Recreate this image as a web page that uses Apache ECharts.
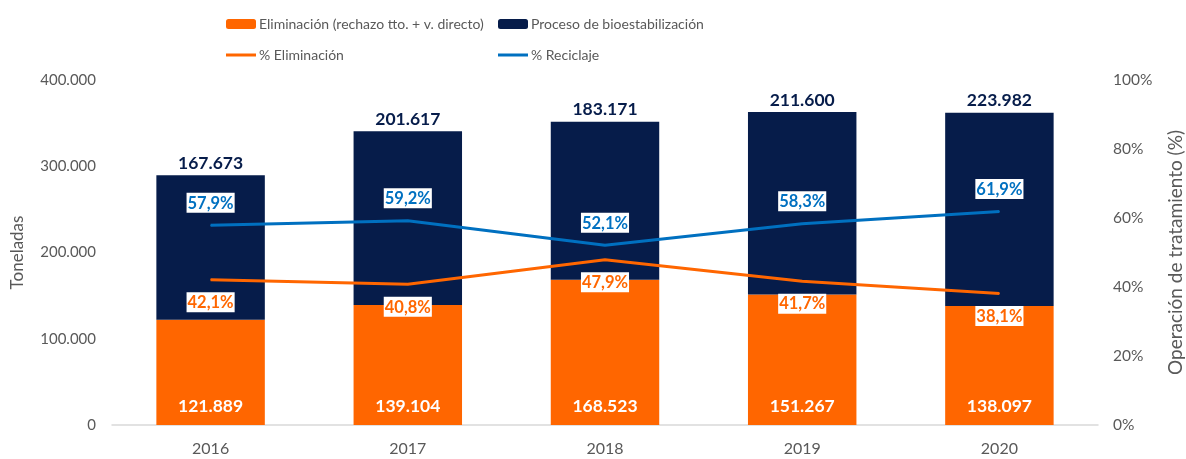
<!DOCTYPE html>
<html>
<head>
<meta charset="utf-8">
<script src="https://cdn.jsdelivr.net/npm/echarts@6/dist/echarts.min.js"></script>
<style>
  html, body { margin: 0; padding: 0; background: #fff; }
  #root { width: 1186px; height: 459px; }
</style>
</head>
<body>
<div id="root"></div>
<script>
var years = ['2016', '2017', '2018', '2019', '2020'];
var eliminacion = [121889, 139104, 168523, 151267, 138097];
var bioestab = [167673, 201617, 183171, 211600, 223982];
var pctEliminacion = [42.1, 40.8, 47.9, 41.7, 38.1];
var pctReciclaje = [57.9, 59.2, 52.1, 58.3, 61.9];
var leftTicks = { min: 0, max: 400000, interval: 100000 };
var rightTicks = { min: 0, max: 100, interval: 20 };

var ORANGE = '#ff6600';
var NAVY = '#061c4a';
var BLUE = '#0070c0';
var GREY = '#595959';
var FONT = 'Lato';

// miles con punto
var fmtMiles = v => String(v).replace(/\B(?=(\d{3})+(?!\d))/g, '.');
var fmtPct = v => v.toFixed(1).replace('.', ',') + '%';

var chart = echarts.init(document.getElementById('root'));

var legendBase = {
  itemWidth: 30,
  itemHeight: 10,
  itemGap: 4,
  textStyle: { color: GREY, fontFamily: FONT, fontSize: 14, padding: [0, 0, 0, -2] },
  selectedMode: false
};

var pctLabel = (color, pos) => ({
  show: true,
  position: pos,
  distance: 12,
  color: color,
  backgroundColor: '#fff',
  padding: [2, 1, 1, 1],
  fontWeight: 'bold',
  fontSize: 16.5,
  fontFamily: FONT,
  formatter: p => fmtPct(p.value)
});

var option = {
  animation: false,
  textStyle: { fontFamily: FONT },
  legend: [
    Object.assign({}, legendBase, { data: ['Eliminación (rechazo tto. + v. directo)'], left: 221, top: 12 }),
    Object.assign({}, legendBase, { data: ['Proceso de bioestabilización'], left: 493, top: 12 }),
    Object.assign({}, legendBase, { data: [{ name: '% Eliminación', icon: 'rect', itemStyle: { color: ORANGE } }], itemHeight: 3, left: 221, top: 43 }),
    Object.assign({}, legendBase, { data: [{ name: '% Reciclaje', icon: 'rect', itemStyle: { color: BLUE } }], itemHeight: 3, left: 493, top: 43 })
  ],
  grid: { left: 112, right: 88, top: 80, bottom: 34, containLabel: false, outerBoundsMode: 'none' },
  xAxis: {
    type: 'category',
    data: years,
    axisTick: { show: false },
    axisLine: { lineStyle: { color: '#d9d9d9', width: 1.5 } },
    axisLabel: { color: GREY, fontSize: 16, fontFamily: FONT, margin: 16 }
  },
  yAxis: [
    {
      type: 'value',
      min: leftTicks.min, max: leftTicks.max, interval: leftTicks.interval,
      name: 'Toneladas',
      nameLocation: 'middle',
      nameRotate: 90,
      nameGap: 86,
      nameTextStyle: { color: GREY, fontSize: 17, fontFamily: FONT },
      splitLine: { show: false },
      axisLine: { show: false },
      axisTick: { show: false },
      axisLabel: { color: GREY, fontSize: 15, fontFamily: FONT, margin: 16, formatter: v => fmtMiles(v) }
    },
    {
      type: 'value',
      min: rightTicks.min, max: rightTicks.max, interval: rightTicks.interval,
      name: 'Operación de tratamiento (%)',
      nameLocation: 'middle',
      nameRotate: 90,
      nameGap: 68,
      nameTextStyle: { color: GREY, fontSize: 19, fontFamily: FONT },
      splitLine: { show: false },
      axisLine: { show: false },
      axisTick: { show: false },
      axisLabel: { color: GREY, fontSize: 15.5, fontFamily: FONT, margin: 15, formatter: '{value}%' }
    }
  ],
  series: [
    {
      name: 'Eliminación (rechazo tto. + v. directo)',
      type: 'bar',
      stack: 'total',
      barWidth: '55%',
      itemStyle: { color: ORANGE },
      data: eliminacion,
      label: {
        show: true,
        position: 'insideBottom',
        distance: 10,
        color: '#fff',
        fontWeight: 'bold',
        fontSize: 17.5,
        fontFamily: FONT,
        formatter: p => fmtMiles(p.value)
      }
    },
    {
      name: 'Proceso de bioestabilización',
      type: 'bar',
      stack: 'total',
      itemStyle: { color: NAVY },
      data: bioestab,
      label: {
        show: true,
        position: 'top',
        distance: 3,
        color: NAVY,
        fontWeight: 'bold',
        fontSize: 17.5,
        fontFamily: FONT,
        formatter: p => fmtMiles(p.value)
      }
    },
    {
      name: '% Eliminación',
      type: 'line',
      yAxisIndex: 1,
      data: pctEliminacion,
      symbol: 'circle',
      symbolSize: 1,
      showSymbol: true,
      lineStyle: { color: ORANGE, width: 3 },
      itemStyle: { color: ORANGE },
      label: pctLabel(ORANGE, 'bottom')
    },
    {
      name: '% Reciclaje',
      type: 'line',
      yAxisIndex: 1,
      data: pctReciclaje,
      symbol: 'circle',
      symbolSize: 1,
      showSymbol: true,
      lineStyle: { color: BLUE, width: 3 },
      itemStyle: { color: BLUE },
      label: pctLabel(BLUE, 'top')
    }
  ]
};

chart.setOption(option);
</script>
</body>
</html>
